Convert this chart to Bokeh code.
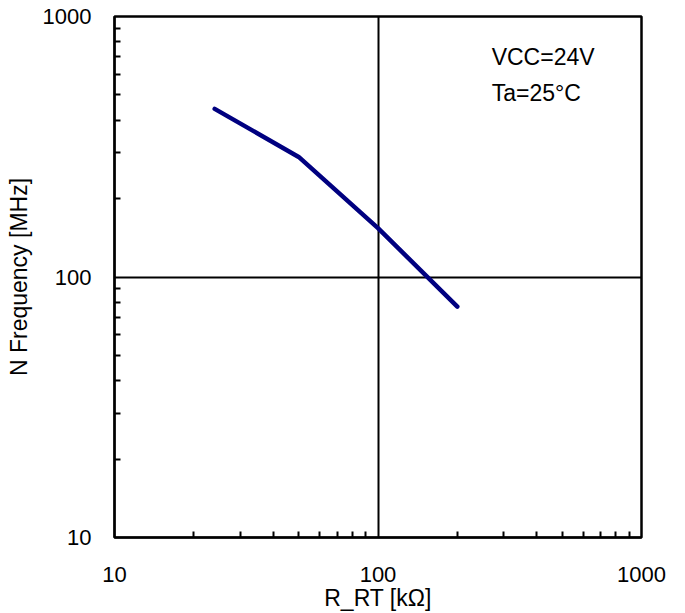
from bokeh.plotting import figure
from bokeh.models import FixedTicker, Label, Range1d
from bokeh.embed import file_html
from bokeh.resources import INLINE

# Data
r_rt_kohm = [24, 50, 100, 200]
n_freq_mhz = [442, 289, 154, 77]

x_major = [10, 100, 1000]
x_minor = [20, 30, 40, 50, 60, 70, 80, 90, 200, 300, 400, 500, 600, 700, 800, 900]
y_major = [10, 100, 1000]
y_minor = [20, 30, 40, 50, 60, 70, 80, 90, 200, 300, 400, 500, 600, 700, 800, 900]
tick_text = ["10", "100", "1000"]

notes = ["VCC=24V", "Ta=25°C"]
note_x = [270, 270]
note_y = [700, 510]

FONT = "Liberation Sans"

p = figure(width=685, height=613, x_axis_type="log", y_axis_type="log",
           x_range=Range1d(10, 1000), y_range=Range1d(10, 1000),
           output_backend="svg", toolbar_location=None,
           min_border_left=114, min_border_right=44,
           min_border_top=16, min_border_bottom=76)

p.line(r_rt_kohm, n_freq_mhz, line_color="#000080", line_width=4.5, line_cap="round", line_join="round")

p.xaxis.ticker = FixedTicker(ticks=x_major, minor_ticks=x_minor)
p.yaxis.ticker = FixedTicker(ticks=y_major, minor_ticks=y_minor)
p.xaxis.major_label_overrides = {v: t for v, t in zip(x_major, tick_text)}
p.yaxis.major_label_overrides = {v: t for v, t in zip(y_major, tick_text)}

for ax in (p.xaxis[0], p.yaxis[0]):
    ax.axis_line_color = "black"
    ax.axis_line_width = 2
    ax.major_tick_in = 0
    ax.major_tick_out = 0
    ax.minor_tick_in = 6
    ax.minor_tick_out = 0
    ax.minor_tick_line_color = "black"
    ax.minor_tick_line_width = 2
    ax.major_label_text_font = FONT
    ax.major_label_text_font_size = "22px"
    ax.major_label_text_color = "black"
    ax.axis_label_text_font = FONT
    ax.axis_label_text_font_style = "normal"
    ax.axis_label_text_color = "black"

p.xaxis.major_label_standoff = 29
p.yaxis.major_label_standoff = 23
p.xaxis.axis_label = "R_RT [kΩ]"
p.yaxis.axis_label = "N Frequency [MHz]"
p.xaxis.axis_label_text_font_size = "23px"
p.yaxis.axis_label_text_font_size = "23px"
p.xaxis.axis_label_standoff = 0
p.yaxis.axis_label_standoff = 8

p.xgrid.ticker = FixedTicker(ticks=[100])
p.ygrid.ticker = FixedTicker(ticks=[100])
p.grid.grid_line_color = "black"
p.grid.grid_line_width = 2
p.grid.grid_line_alpha = 1

p.outline_line_color = "black"
p.outline_line_width = 2.5
p.outline_line_alpha = 1

for t, xx, yy in zip(notes, note_x, note_y):
    p.add_layout(Label(x=xx, y=yy, text=t, text_font=FONT, text_font_size="23px",
                       text_baseline="middle", text_align="left", text_color="black"))

open("out.html", "w").write(file_html(p, INLINE))
